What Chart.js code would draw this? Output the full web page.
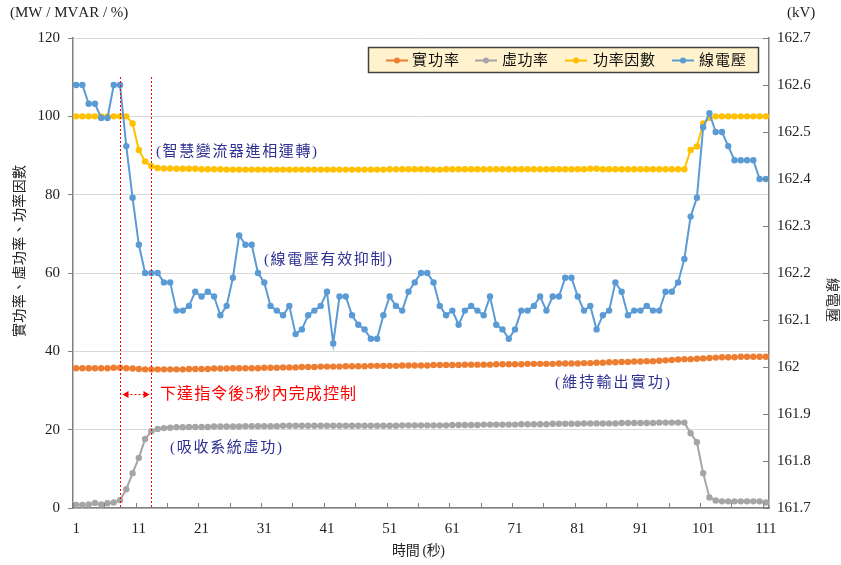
<!DOCTYPE html>
<html>
<head>
<meta charset="utf-8">
<script src="https://cdn.jsdelivr.net/npm/chart.js@4.4.0/dist/chart.umd.min.js"></script>
<style>
  html, body { margin: 0; padding: 0; background: #ffffff; }
  #wrap { width: 841px; height: 565px; position: relative; }
</style>
</head>
<body>
<div id="wrap"><canvas id="c" width="841" height="565"></canvas></div>
<script>
// Time axis (seconds) and tick labels
const seconds = [];
for (let s = 1; s <= 111; s++) seconds.push(String(s));
const leftTicks = [0, 20, 40, 60, 80, 100, 120];
const rightTicks = [161.7, 161.8, 161.9, 162.0, 162.1, 162.2, 162.3, 162.4, 162.5, 162.6, 162.7];

// Real power (MW)
const realPower = [
  35.7, 35.7, 35.7, 35.7, 35.7, 35.7, 35.8, 35.8, 35.7, 35.6,
  35.5, 35.4, 35.4, 35.4, 35.4, 35.4, 35.4, 35.4, 35.5, 35.5,
  35.5, 35.5, 35.6, 35.6, 35.6, 35.7, 35.7, 35.7, 35.7, 35.7,
  35.8, 35.8, 35.8, 35.9, 35.9, 35.9, 36.0, 36.0, 36.0, 36.1,
  36.1, 36.1, 36.1, 36.2, 36.2, 36.2, 36.2, 36.3, 36.3, 36.3,
  36.3, 36.3, 36.4, 36.4, 36.4, 36.4, 36.4, 36.5, 36.5, 36.5,
  36.5, 36.5, 36.6, 36.6, 36.6, 36.6, 36.6, 36.7, 36.7, 36.7,
  36.7, 36.7, 36.8, 36.8, 36.8, 36.8, 36.8, 36.9, 36.9, 36.9,
  36.9, 37.0, 37.0, 37.1, 37.1, 37.2, 37.2, 37.3, 37.3, 37.4,
  37.4, 37.5, 37.5, 37.6, 37.7, 37.8, 37.9, 38.0, 38.0, 38.1,
  38.2, 38.3, 38.4, 38.5, 38.5, 38.5, 38.6, 38.6, 38.6, 38.6, 38.6
];

// Reactive power (MVAR)
const reactivePower = [
  0.8, 0.8, 0.9, 1.3, 0.9, 1.2, 1.4, 2.0, 4.8, 8.9,
  12.8, 17.6, 19.6, 20.2, 20.4, 20.5, 20.6, 20.6, 20.7, 20.7,
  20.7, 20.7, 20.8, 20.8, 20.8, 20.8, 20.8, 20.9, 20.9, 20.9,
  20.9, 20.9, 20.9, 21.0, 21.0, 21.0, 21.0, 21.0, 21.0, 21.0,
  21.0, 21.0, 21.0, 21.0, 21.0, 21.0, 21.0, 21.0, 21.0, 21.0,
  21.0, 21.0, 21.1, 21.1, 21.1, 21.1, 21.1, 21.1, 21.1, 21.1,
  21.2, 21.2, 21.2, 21.2, 21.2, 21.3, 21.3, 21.3, 21.3, 21.3,
  21.3, 21.4, 21.4, 21.4, 21.4, 21.4, 21.5, 21.5, 21.5, 21.5,
  21.5, 21.6, 21.6, 21.6, 21.6, 21.6, 21.6, 21.7, 21.7, 21.7,
  21.7, 21.7, 21.7, 21.8, 21.8, 21.8, 21.8, 21.8, 19.1, 16.8,
  8.9, 2.7, 1.9, 1.7, 1.7, 1.7, 1.7, 1.7, 1.7, 1.7, 1.4
];

// Power factor (%)
const powerFactor = [
  100, 100, 100, 100, 100, 100, 100, 100, 100, 98.2,
  91.4, 88.5, 87.3, 86.8, 86.7, 86.7, 86.6, 86.6, 86.6, 86.6,
  86.5, 86.5, 86.5, 86.5, 86.4, 86.4, 86.4, 86.4, 86.4, 86.4,
  86.4, 86.4, 86.4, 86.4, 86.4, 86.4, 86.4, 86.4, 86.4, 86.4,
  86.4, 86.4, 86.4, 86.4, 86.4, 86.4, 86.4, 86.4, 86.4, 86.4,
  86.5, 86.5, 86.5, 86.5, 86.5, 86.5, 86.5, 86.4, 86.4, 86.5,
  86.5, 86.5, 86.5, 86.5, 86.5, 86.5, 86.5, 86.5, 86.5, 86.5,
  86.5, 86.5, 86.5, 86.5, 86.5, 86.5, 86.5, 86.5, 86.5, 86.5,
  86.5, 86.5, 86.6, 86.6, 86.5, 86.5, 86.5, 86.5, 86.5, 86.5,
  86.5, 86.5, 86.5, 86.5, 86.5, 86.5, 86.5, 86.5, 91.4, 92.3,
  98.2, 99.6, 100, 100, 100, 100, 100, 100, 100, 100, 100
];

// Line voltage (kV)
const lineVoltage = [
  162.60, 162.60, 162.56, 162.56, 162.53, 162.53, 162.60, 162.60, 162.47, 162.36,
  162.26, 162.20, 162.20, 162.20, 162.18, 162.18, 162.12, 162.12, 162.13, 162.16,
  162.15, 162.16, 162.15, 162.11, 162.13, 162.19, 162.28, 162.26, 162.26, 162.20,
  162.18, 162.13, 162.12, 162.11, 162.13, 162.07, 162.08, 162.11, 162.12, 162.13,
  162.16, 162.05, 162.15, 162.15, 162.11, 162.09, 162.08, 162.06, 162.06, 162.11,
  162.15, 162.13, 162.12, 162.16, 162.18, 162.20, 162.20, 162.18, 162.13, 162.11,
  162.12, 162.09, 162.12, 162.13, 162.12, 162.11, 162.15, 162.09, 162.08, 162.06,
  162.08, 162.12, 162.12, 162.13, 162.15, 162.12, 162.15, 162.15, 162.19, 162.19,
  162.15, 162.12, 162.13, 162.08, 162.11, 162.12, 162.18, 162.16, 162.11, 162.12,
  162.12, 162.13, 162.12, 162.12, 162.16, 162.16, 162.18, 162.23, 162.32, 162.36,
  162.51, 162.54, 162.50, 162.50, 162.47, 162.44, 162.44, 162.44, 162.44, 162.40, 162.40
];

// Command issued at 8 s, control completed at 13 s
const commandSecond = '8';
const doneSecond = '13';

const seriesNames = ['實功率', '虛功率', '功率因數', '線電壓'];
const seriesColors = ['#ED7D31', '#A5A5A5', '#FFC000', '#5B9BD5'];

const SERIF = "'Liberation Serif', 'Noto Sans CJK TC', serif";
const NAVY = '#2E3192';
const RED = '#FF0000';

// Draw a string character by character, spreading it over a given width
function spacedText(ctx, str, x, y, font, color, width) {
  ctx.font = font;
  ctx.fillStyle = color;
  ctx.textBaseline = 'middle';
  ctx.textAlign = 'left';
  const chars = Array.from(str);
  const widths = chars.map(ch => ctx.measureText(ch).width);
  const total = widths.reduce((a, b) => a + b, 0);
  const gap = width && chars.length > 1 ? (width - total) / (chars.length - 1) : 0;
  let cx = x;
  chars.forEach((ch, i) => { ctx.fillText(ch, cx, y); cx += widths[i] + gap; });
}

const decor = {
  id: 'decor',
  afterDatasetsDraw(chart) {
    const { ctx, chartArea: a, scales } = chart;
    const x = scales.x, y1 = scales.y1;
    ctx.save();

    // inward tick marks on the time axis, every 5 s at category boundaries
    ctx.strokeStyle = '#808080';
    ctx.lineWidth = 1;
    for (let i = 0; i < seconds.length; i += 5) {
      const px = Math.round(x.getPixelForValue(i - 0.5)) + 0.5;
      ctx.beginPath(); ctx.moveTo(px, a.bottom); ctx.lineTo(px, a.bottom - 5); ctx.stroke();
    }
    // inward tick marks on the voltage axis
    rightTicks.forEach(v => {
      const py = Math.round(y1.getPixelForValue(v)) + 0.5;
      ctx.beginPath(); ctx.moveTo(a.right, py); ctx.lineTo(a.right - 6, py); ctx.stroke();
    });

    // red dashed markers for command time and completion time
    const i0 = seconds.indexOf(commandSecond), i1 = seconds.indexOf(doneSecond);
    const p0 = Math.round(x.getPixelForValue(i0)) + 0.5;
    const p1 = Math.round(x.getPixelForValue(i1)) + 0.5;
    [p0, p1].forEach(px => {
      ctx.strokeStyle = RED;
      ctx.lineWidth = 1;
      ctx.setLineDash([2, 2]);
      ctx.beginPath(); ctx.moveTo(px, 77); ctx.lineTo(px, a.bottom); ctx.stroke();
    });
    // double-headed arrow between the markers
    const ay = 394.5;
    ctx.strokeStyle = RED;
    ctx.beginPath(); ctx.moveTo(p0 + 6, ay); ctx.lineTo(p1 - 6, ay); ctx.stroke();
    ctx.setLineDash([]);
    ctx.fillStyle = RED;
    ctx.beginPath(); ctx.moveTo(p0 + 2, ay); ctx.lineTo(p0 + 8, ay - 3.5); ctx.lineTo(p0 + 8, ay + 3.5); ctx.closePath(); ctx.fill();
    ctx.beginPath(); ctx.moveTo(p1 - 2, ay); ctx.lineTo(p1 - 8, ay - 3.5); ctx.lineTo(p1 - 8, ay + 3.5); ctx.closePath(); ctx.fill();

    // annotations
    spacedText(ctx, '下達指令後5秒內完成控制', 160, 395, '16px ' + SERIF, RED, 196);
    spacedText(ctx, '(智慧變流器進相運轉)', 156, 152, '15px ' + SERIF, NAVY, 161);
    spacedText(ctx, '(線電壓有效抑制)', 264, 260, '15px ' + SERIF, NAVY, 128);
    spacedText(ctx, '(維持輸出實功)', 555, 383, '15px ' + SERIF, NAVY, 115);
    spacedText(ctx, '(吸收系統虛功)', 170, 448, '15px ' + SERIF, NAVY, 112);

    // legend box
    ctx.fillStyle = '#FFF2CC';
    ctx.fillRect(368.5, 47.5, 390, 25);
    ctx.strokeStyle = '#404040';
    ctx.lineWidth = 1.5;
    ctx.strokeRect(368.5, 47.5, 390, 25);
    const sampleX = [386, 475, 565, 672];
    const textX = [412, 502, 593, 699];
    const textW = [47, 46, 62, 47];
    seriesNames.forEach((name, i) => {
      ctx.strokeStyle = seriesColors[i];
      ctx.lineWidth = 2;
      ctx.beginPath(); ctx.moveTo(sampleX[i], 60.5); ctx.lineTo(sampleX[i] + 22, 60.5); ctx.stroke();
      ctx.fillStyle = seriesColors[i];
      ctx.beginPath(); ctx.arc(sampleX[i] + 11, 60.5, 3, 0, Math.PI * 2); ctx.fill();
      spacedText(ctx, name, textX[i], 61, '15px ' + SERIF, '#111111', textW[i]);
    });

    // units and axis titles
    spacedText(ctx, '(MW / MVAR / %)', 10, 13, '15px ' + SERIF, '#222222');
    spacedText(ctx, '(kV)', 787, 13, '15px ' + SERIF, '#222222');
    ctx.save();
    ctx.translate(20, 251);
    ctx.rotate(-Math.PI / 2);
    spacedText(ctx, '實功率、虛功率、功率因數', -86, 0, '14px ' + SERIF, '#222222', 172);
    ctx.restore();
    ctx.save();
    ctx.translate(832, 300);
    ctx.rotate(Math.PI / 2);
    spacedText(ctx, '線電壓', -22, 0, '14px ' + SERIF, '#222222', 44);
    ctx.restore();
    spacedText(ctx, '時間 (秒)', 392, 551, '14px ' + SERIF, '#222222', 53);

    ctx.restore();
  }
};

const whiteBg = {
  id: 'whiteBg',
  beforeDraw(chart) {
    const { ctx } = chart;
    ctx.save(); ctx.fillStyle = '#ffffff'; ctx.fillRect(0, 0, chart.width, chart.height); ctx.restore();
  }
};

function lineSet(label, data, color, axis, order) {
  return {
    label, data, yAxisID: axis, order,
    borderColor: color, backgroundColor: color,
    borderWidth: 2, pointRadius: 3.2, pointHoverRadius: 3.2,
    pointBorderWidth: 0, pointBackgroundColor: color,
    tension: 0, fill: false
  };
}

new Chart(document.getElementById('c'), {
  type: 'line',
  data: {
    labels: seconds,
    datasets: [
      lineSet(seriesNames[0], realPower, seriesColors[0], 'y', 4),
      lineSet(seriesNames[1], reactivePower, seriesColors[1], 'y', 3),
      lineSet(seriesNames[2], powerFactor, seriesColors[2], 'y', 2),
      lineSet(seriesNames[3], lineVoltage, seriesColors[3], 'y1', 1)
    ]
  },
  options: {
    responsive: false,
    animation: false,
    devicePixelRatio: 1,
    layout: { padding: { top: 38, left: 0, right: 0, bottom: 0 } },
    plugins: { legend: { display: false }, tooltip: { enabled: false } },
    scales: {
      x: {
        type: 'category',
        offset: true,
        grid: { display: false, drawTicks: false },
        border: { display: true, color: '#808080', width: 1.5 },
        ticks: {
          autoSkip: false, maxRotation: 0, minRotation: 0, padding: 12,
          color: '#222222', font: { family: SERIF, size: 15 },
          callback: (v, i) => (i % 10 === 0 ? seconds[i] : '')
        },
        afterFit: s => { s.height = 57; }
      },
      y: {
        position: 'left',
        min: leftTicks[0], max: leftTicks[leftTicks.length - 1],
        afterBuildTicks: s => { s.ticks = leftTicks.map(v => ({ value: v })); },
        grid: { color: '#D9D9D9', lineWidth: 1, drawTicks: true, tickLength: 5, tickColor: '#808080' },
        border: { display: true, color: '#808080', width: 1.5 },
        ticks: { padding: 8, color: '#222222', font: { family: SERIF, size: 15 } },
        afterFit: s => { s.width = 73; }
      },
      y1: {
        position: 'right',
        min: rightTicks[0], max: rightTicks[rightTicks.length - 1],
        afterBuildTicks: s => { s.ticks = rightTicks.map(v => ({ value: v })); },
        grid: { display: true, drawOnChartArea: false, drawTicks: false },
        border: { display: true, color: '#808080', width: 1.5 },
        ticks: {
          padding: 8, color: '#222222', font: { family: SERIF, size: 15 },
          callback: v => String(parseFloat(Number(v).toFixed(1)))
        },
        afterFit: s => { s.width = 72; }
      }
    }
  },
  plugins: [whiteBg, decor]
});
</script>
</body>
</html>
